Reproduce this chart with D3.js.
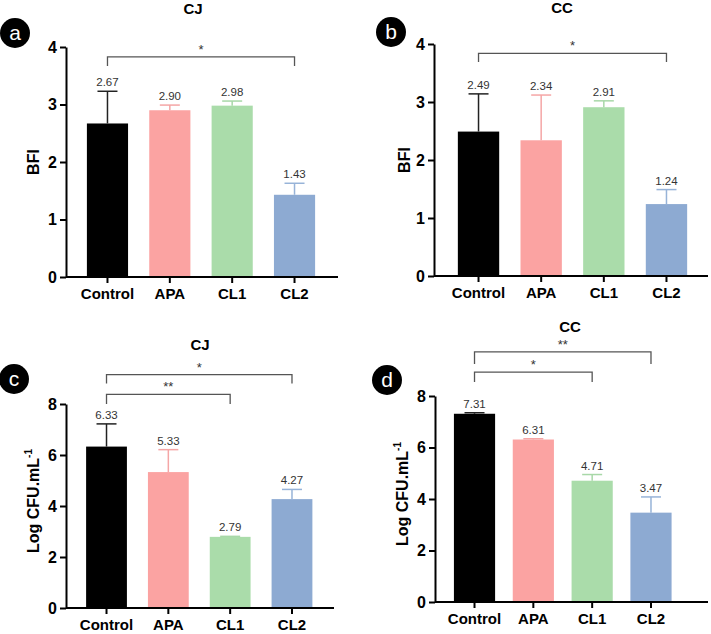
<!DOCTYPE html>
<html lang="en">
<head>
  <meta charset="utf-8">
  <title>BFI and Log CFU</title>
  <style>
    body { margin: 0; background: #fff; }
    svg text { font-family: "Liberation Sans", Arial, sans-serif; }
    .tick line, .domain { stroke: #000; stroke-width: 2px; }
  </style>
</head>
<body>
<div id="chart"></div>
<script src="https://cdn.jsdelivr.net/npm/d3@7"></script>
<script>
  // data
  var categories = ["Control", "APA", "CL1", "CL2"];
  var colors = ["#000000", "#fba3a2", "#aadcaa", "#8daad2"];
  var errColors = ["#222222", "#f5a6a6", "#a8d8a8", "#97b3d8"];

  var bfiCJ = [2.67, 2.90, 2.98, 1.43];
  var bfiCJErr = [0.56, 0.09, 0.08, 0.20];
  var bfiCC = [2.49, 2.34, 2.91, 1.24];
  var bfiCCErr = [0.65, 0.78, 0.11, 0.25];
  var cfuCJ = [6.33, 5.33, 2.79, 4.27];
  var cfuCJErr = [0.89, 0.88, 0.02, 0.38];
  var cfuCC = [7.31, 6.31, 4.71, 3.47];
  var cfuCCErr = [0.04, 0.03, 0.24, 0.61];

  var bfiTicks = [0, 1, 2, 3, 4];
  var cfuTicks = [0, 2, 4, 6, 8];

  var sigA = [{ from: "Control", to: "CL2", label: "*" }];
  var sigB = [{ from: "Control", to: "CL2", label: "*" }];
  var sigC = [{ from: "Control", to: "CL2", label: "*" }, { from: "Control", to: "CL1", label: "**" }];
  var sigD = [{ from: "Control", to: "CL2", label: "**" }, { from: "Control", to: "CL1", label: "*" }];

  var svg = d3.select("#chart")
    .append("svg")
    .attr("width", 711)
    .attr("height", 634);

  var panels = [
    { letter: "a", title: "CJ", ylab: "BFI", vals: bfiCJ, errs: bfiCJErr, ticks: bfiTicks, sig: sigA,
      ax: 66, axEnd: 338, yTop: 47, y0: 277, band: [76.3, 325.7], pad: 0.34,
      circ: [15, 33], titleX: 193, titleY: 14, ylabX: 39, sigY: [[3.83, 3.67]] },
    { letter: "b", title: "CC", ylab: "BFI", vals: bfiCC, errs: bfiCCErr, ticks: bfiTicks, sig: sigB,
      ax: 434, axEnd: 708, yTop: 44, y0: 276, band: [447.2, 697.8], pad: 0.34,
      circ: [391, 32], titleX: 562, titleY: 13, ylabX: 410, sigY: [[3.84, 3.69]] },
    { letter: "c", title: "CJ", ylab: "cfu", vals: cfuCJ, errs: cfuCJErr, ticks: cfuTicks, sig: sigC,
      ax: 66, axEnd: 334, yTop: 404, y0: 608, band: [75.6, 322.9], pad: 0.34,
      circ: [14, 379], titleX: 200, titleY: 350, ylabX: 39, sigY: [[9.15, 8.8], [8.38, 8.0]] },
    { letter: "d", title: "CC", ylab: "cfu", vals: cfuCC, errs: cfuCCErr, ticks: cfuTicks, sig: sigD,
      ax: 435, axEnd: 708, yTop: 396, y0: 602, band: [445.1, 680.4], pad: 0.30,
      circ: [387, 380], titleX: 570, titleY: 332, ylabX: 408, sigY: [[9.71, 9.24], [8.93, 8.54]] }
  ];

  panels.forEach(function (p) {
    var g = svg.append("g");
    var maxT = p.ticks[p.ticks.length - 1];

    var y = d3.scaleLinear().domain([0, maxT]).range([p.y0, p.yTop]);
    var x = d3.scaleBand().domain(categories).range(p.band)
      .paddingInner(p.pad).paddingOuter(p.pad / 2);

    // bars
    g.selectAll(".bar")
      .data(p.vals)
      .enter()
      .append("rect")
      .attr("x", function (d, i) { return x(categories[i]); })
      .attr("y", function (d) { return y(d); })
      .attr("width", x.bandwidth())
      .attr("height", function (d) { return p.y0 - y(d); })
      .attr("fill", function (d, i) { return colors[i]; });

    // error bars (upper only) + value labels
    p.vals.forEach(function (v, i) {
      var cx = x(categories[i]) + x.bandwidth() / 2;
      var top = y(v + p.errs[i]);
      g.append("line").attr("x1", cx).attr("x2", cx)
        .attr("y1", y(v)).attr("y2", top)
        .attr("stroke", errColors[i]).attr("stroke-width", 1.5);
      g.append("line").attr("x1", cx - 10).attr("x2", cx + 10)
        .attr("y1", top).attr("y2", top)
        .attr("stroke", errColors[i]).attr("stroke-width", 1.5);
      g.append("text")
        .attr("x", cx).attr("y", top - 5)
        .attr("text-anchor", "middle")
        .style("font-size", "11.5px")
        .attr("fill", "#333")
        .text(d3.format(".2f")(v));
    });

    // axes
    var ya = g.append("g")
      .attr("transform", "translate(" + p.ax + ",0)")
      .call(d3.axisLeft(y).tickValues(p.ticks).tickFormat(d3.format("d"))
        .tickSize(6).tickSizeOuter(0).tickPadding(3));
    ya.selectAll(".tick text")
      .style("font-size", "16px").style("font-weight", "bold").attr("fill", "#000");

    var xa = g.append("g")
      .attr("transform", "translate(0," + p.y0 + ")")
      .call(d3.axisBottom(x).tickSize(6).tickSizeOuter(0).tickPadding(5));
    xa.select(".domain").attr("d", "M" + p.ax + ",0H" + p.axEnd);
    xa.selectAll(".tick text")
      .style("font-size", "15px").style("font-weight", "bold").attr("fill", "#000");

    // significance brackets
    p.sig.forEach(function (s, k) {
      var x1 = x(s.from) + x.bandwidth() / 2;
      var x2 = x(s.to) + x.bandwidth() / 2;
      var yl = y(p.sigY[k][0]), yt = y(p.sigY[k][1]);
      g.append("path")
        .attr("d", "M" + x1 + "," + yt + "V" + yl + "H" + x2 + "V" + yt)
        .attr("fill", "none").attr("stroke", "#555").attr("stroke-width", 1.3);
      g.append("text")
        .attr("x", (x1 + x2) / 2).attr("y", yl - 3)
        .attr("text-anchor", "middle")
        .style("font-size", "13px")
        .attr("fill", "#333")
        .text(s.label);
    });

    // title
    g.append("text")
      .attr("x", p.titleX).attr("y", p.titleY)
      .attr("text-anchor", "middle")
      .style("font-size", "15px").style("font-weight", "bold")
      .text(p.title);

    // y label
    var yl = g.append("text")
      .attr("transform", "translate(" + p.ylabX + "," + ((p.y0 + p.yTop) / 2 + (p.ylab === "BFI" ? 0 : -5)) + ") rotate(-90)")
      .attr("text-anchor", "middle")
      .style("font-size", "16px").style("font-weight", "bold");
    if (p.ylab === "BFI") {
      yl.text("BFI");
    } else {
      yl.append("tspan").text("Log CFU.mL");
      yl.append("tspan").attr("dy", -7).style("font-size", "10px").text("-1");
    }

    // panel letter
    g.append("circle").attr("cx", p.circ[0]).attr("cy", p.circ[1]).attr("r", 15).attr("fill", "#000");
    g.append("text")
      .attr("x", p.circ[0]).attr("y", p.circ[1] + 7)
      .attr("text-anchor", "middle")
      .style("font-size", "21px")
      .attr("fill", "#fff")
      .text(p.letter);
  });
</script>
</body>
</html>
